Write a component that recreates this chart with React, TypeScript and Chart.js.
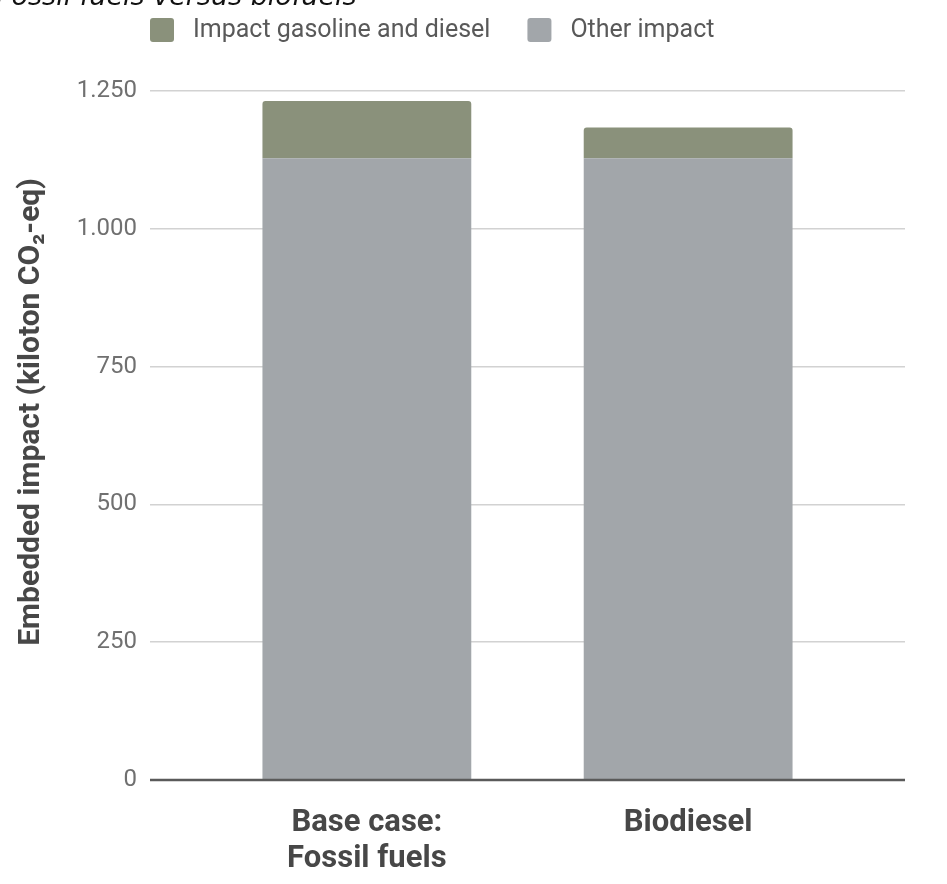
import React, { useEffect, useRef } from "react";
import { Chart, registerables } from "chart.js";

Chart.register(...registerables);

// ---- data ----
const chartTitle = "Fossil fuels versus biofuels";
const categories: string[][] = [["Base case:", "Fossil fuels"], ["Biodiesel"]];
const otherImpact = [1128, 1128];
const fuelImpact = [104, 56];
const yTicks = [0, 250, 500, 750, 1000, 1250];
const fuelLabel = "Impact gasoline and diesel";
const otherLabel = "Other impact";
const yAxisTitle = "Embedded impact (kiloton CO₂-eq)";

const GREEN = "#8a917b";
const GREY = "#a2a6aa";

// thousands separator as a dot: 1250 -> "1.250"
const formatTick = (v: number) =>
  String(Math.round(v)).replace(/\B(?=(\d{3})+(?!\d))/g, ".");

const roundRect = (
  ctx: CanvasRenderingContext2D,
  x: number,
  y: number,
  w: number,
  h: number,
  r: number
) => {
  ctx.beginPath();
  ctx.moveTo(x + r, y);
  ctx.lineTo(x + w - r, y);
  ctx.quadraticCurveTo(x + w, y, x + w, y + r);
  ctx.lineTo(x + w, y + h - r);
  ctx.quadraticCurveTo(x + w, y + h, x + w - r, y + h);
  ctx.lineTo(x + r, y + h);
  ctx.quadraticCurveTo(x, y + h, x, y + h - r);
  ctx.lineTo(x, y + r);
  ctx.quadraticCurveTo(x, y, x + r, y);
  ctx.closePath();
};

// title, legend, axis title and the baseline drawn on top of the bars
const decorations = {
  id: "decorations",
  afterDatasetsDraw(chart: any) {
    const ctx: CanvasRenderingContext2D = chart.ctx;
    const area = chart.chartArea;
    const y = chart.scales.y;

    // baseline at zero
    const y0 = y.getPixelForValue(0);
    ctx.save();
    ctx.strokeStyle = "#5a5a5a";
    ctx.lineWidth = 2.5;
    ctx.beginPath();
    ctx.moveTo(area.left, y0);
    ctx.lineTo(area.right, y0);
    ctx.stroke();
    ctx.restore();
  },
  afterDraw(chart: any) {
    const ctx: CanvasRenderingContext2D = chart.ctx;
    const area = chart.chartArea;

    // chart title
    ctx.save();
    ctx.font = "italic 27px 'DejaVu Sans'";
    ctx.fillStyle = "#111";
    ctx.textBaseline = "alphabetic";
    ctx.textAlign = "left";
    ctx.fillText(chartTitle, -4, 5);
    ctx.restore();

    // legend (top series first)
    const items = [...chart.data.datasets].reverse();
    ctx.save();
    ctx.font = "25px Roboto";
    ctx.textBaseline = "middle";
    ctx.textAlign = "left";
    let x = area.left;
    const boxTop = 18;
    const box = 24;
    items.forEach((ds: any) => {
      ctx.fillStyle = ds.backgroundColor;
      roundRect(ctx, x, boxTop, box, box, 3);
      ctx.fill();
      ctx.fillStyle = "#595959";
      const tx = x + box + 19;
      ctx.fillText(ds.label, tx, boxTop + box / 2 + 1);
      x = tx + ctx.measureText(ds.label).width + 37;
    });
    ctx.restore();

    // y axis title
    ctx.save();
    ctx.translate(31, 412);
    ctx.rotate(-Math.PI / 2);
    ctx.font = "bold 30px Roboto";
    ctx.fillStyle = "#474747";
    ctx.textAlign = "center";
    ctx.textBaseline = "middle";
    ctx.fillText(yAxisTitle, 0, 0);
    ctx.restore();
  },
};

export default function App() {
  const ref = useRef<HTMLCanvasElement | null>(null);

  useEffect(() => {
    if (!ref.current) return;
    const chart = new Chart(ref.current, {
      type: "bar",
      data: {
        datasets: [
          {
            label: otherLabel,
            data: otherImpact.map((v, i) => ({ x: i, y: v })),
            backgroundColor: GREY,
            borderWidth: 0,
          },
          {
            label: fuelLabel,
            data: fuelImpact.map((v, i) => ({ x: i, y: v })),
            backgroundColor: GREEN,
            borderWidth: 0,
            borderRadius: { topLeft: 3, topRight: 3, bottomLeft: 0, bottomRight: 0 },
            borderSkipped: false,
          },
        ],
      },
      options: {
        animation: false,
        responsive: false,
        maintainAspectRatio: false,
        layout: { padding: { top: 91, right: 42, left: 0, bottom: 0 } },
        datasets: {
          bar: { barPercentage: 0.65, categoryPercentage: 1 },
        },
        plugins: {
          legend: { display: false },
          title: { display: false },
          tooltip: { enabled: false },
        },
        scales: {
          x: {
            type: "linear",
            stacked: true,
            offset: false,
            min: -0.675,
            max: 1.675,
            afterBuildTicks: (scale: any) => {
              scale.ticks = categories.map((_, i) => ({ value: i }));
            },
            afterFit: (scale: any) => {
              scale.height = 104;
            },
            grid: { display: false, drawTicks: false, offset: false },
            border: { display: false },
            ticks: {
              autoSkip: false,
              maxRotation: 0,
              padding: 25,
              color: "#474747",
              font: { family: "Roboto", size: 31, weight: "bold", lineHeight: 1.17 },
              callback: (v: any) => categories[Math.round(Number(v))] ?? "",
            },
          },
          y: {
            stacked: true,
            min: 0,
            max: 1250,
            afterBuildTicks: (scale: any) => {
              scale.ticks = yTicks.map((v) => ({ value: v }));
            },
            afterFit: (scale: any) => {
              scale.width = 150;
            },
            grid: { color: "#d2d2d2", lineWidth: 1.5, drawTicks: false },
            border: { display: false },
            ticks: {
              padding: 13,
              color: "#707070",
              font: { family: "Roboto", size: 24 },
              callback: (v: any) => formatTick(Number(v)),
            },
          },
        },
      },
      plugins: [decorations],
    } as any);
    return () => chart.destroy();
  }, []);

  return (
    <div style={{ position: "fixed", left: 0, top: 0, width: 947, height: 884, background: "#fff" }}>
      <canvas ref={ref} width={947} height={884} style={{ display: "block" }} />
    </div>
  );
}
